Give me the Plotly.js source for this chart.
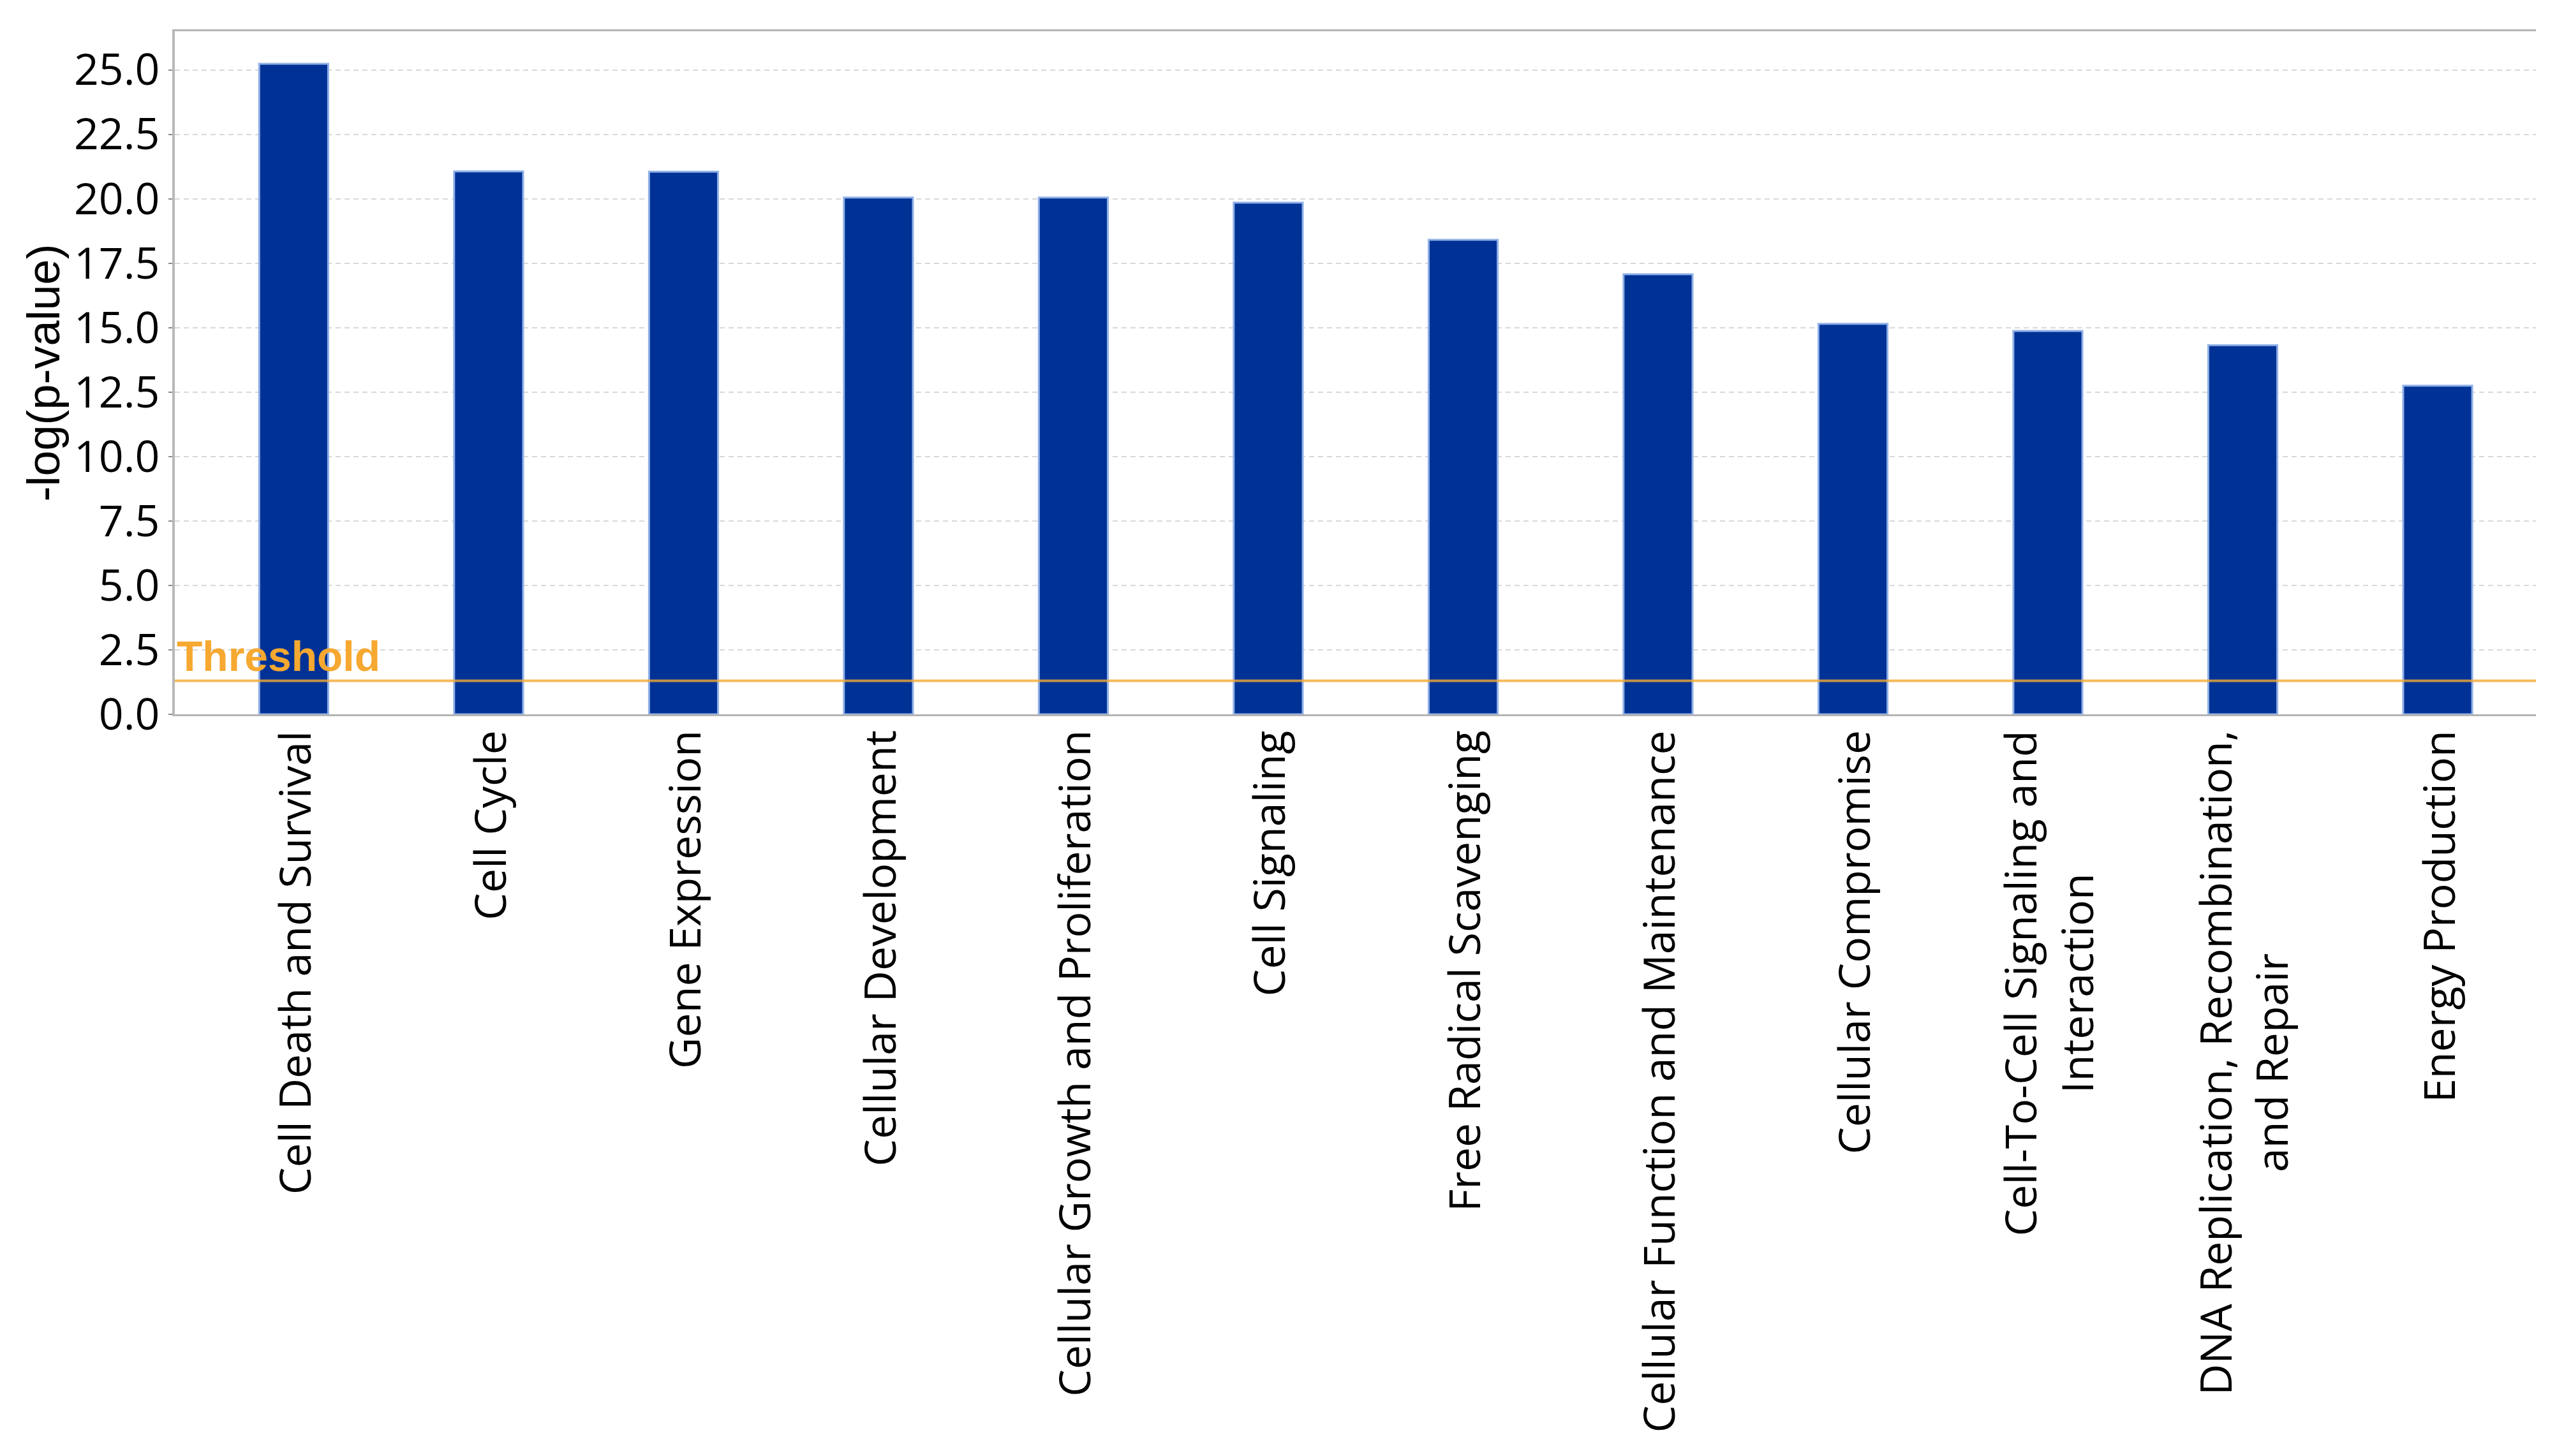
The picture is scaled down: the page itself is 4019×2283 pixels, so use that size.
<!DOCTYPE html>
<html>
<head>
<meta charset="utf-8">
<script src="https://cdn.plot.ly/plotly-3.0.1.min.js"></script>
<style>
  html, body { margin: 0; padding: 0; background: #ffffff; }
  #chart { width: 4019px; height: 2283px; }
</style>
</head>
<body>
<div id="chart"></div>
<script>
// ---- data ----
const categories = [
  "Cell Death and Survival",
  "Cell Cycle",
  "Gene Expression",
  "Cellular Development",
  "Cellular Growth and Proliferation",
  "Cell Signaling",
  "Free Radical Scavenging",
  "Cellular Function and Maintenance",
  "Cellular Compromise",
  "Cell-To-Cell Signaling and Interaction",
  "DNA Replication, Recombination, and Repair",
  "Energy Production"
];
const tickLabels = [
  "Cell Death and Survival",
  "Cell Cycle",
  "Gene Expression",
  "Cellular Development",
  "Cellular Growth and Proliferation",
  "Cell Signaling",
  "Free Radical Scavenging",
  "Cellular Function and Maintenance",
  "Cellular Compromise",
  "Cell-To-Cell Signaling and<br>Interaction",
  "DNA Replication, Recombination,<br>and Repair",
  "Energy Production"
];
const negLogP = [25.24, 21.06, 21.05, 20.05, 20.05, 19.85, 18.41, 17.07, 15.15, 14.87, 14.32, 12.75];
const thresholdValue = 1.3;
const thresholdLabel = "Threshold";
const yTitle = "-log(p-value)";

// ---- chart ----
const trace = {
  type: "bar",
  x: categories,
  y: negLogP,
  width: 0.354,
  marker: {
    color: "#003296",
    line: { color: "#8fb0e8", width: 3 }
  },
  hoverinfo: "x+y"
};

const labelAnnotations = categories.map((c, i) => ({
  x: c, xref: "x",
  y: 0, yref: "paper",
  text: tickLabels[i],
  textangle: -90,
  xanchor: "center",
  yanchor: "top",
  align: "center",
  showarrow: false,
  yshift: -24,
  borderpad: 0,
  font: { family: "Open Sans, Noto Sans, sans-serif", size: 68, color: "#000000" }
}));

const layout = {
  width: 4019,
  height: 2283,
  paper_bgcolor: "#ffffff",
  plot_bgcolor: "#ffffff",
  margin: { l: 274, r: 44, t: 49, b: 1163, pad: 0 },
  showlegend: false,
  bargap: 0,
  xaxis: {
    type: "category",
    range: [-0.61, 11.504],
    showticklabels: false,
    ticks: "",
    showgrid: false,
    zeroline: false,
    showline: true,
    mirror: true,
    linecolor: "#b4b4b4",
    linewidth: 3,
    fixedrange: true
  },
  yaxis: {
    range: [0, 26.5],
    tick0: 0,
    dtick: 2.5,
    tickformat: ".1f",
    ticks: "outside",
    ticklen: 6,
    tickwidth: 2,
    tickcolor: "#8a8a8a",
    showgrid: true,
    gridcolor: "#d8d8d8",
    gridwidth: 2,
    griddash: "8px,6px",
    zeroline: false,
    showline: true,
    linecolor: "#b8b8b8",
    linewidth: 4,
    tickfont: { family: "Open Sans, Noto Sans, sans-serif", size: 68, color: "#000000" },
    title: {
      text: yTitle,
      standoff: 0,
      font: { family: "Liberation Sans, Arial, sans-serif", size: 72, color: "#000000" }
    },
    fixedrange: true
  },
  shapes: [{
    type: "line",
    xref: "paper", x0: 0, x1: 1,
    yref: "y", y0: thresholdValue, y1: thresholdValue,
    line: { color: "rgba(244,170,50,0.8)", width: 4 },
    layer: "above"
  }],
  annotations: [{
    x: 0, xref: "paper",
    y: thresholdValue, yref: "y",
    text: "<b>" + thresholdLabel + "</b>",
    xanchor: "left",
    yanchor: "bottom",
    showarrow: false,
    borderpad: 0,
    xshift: 2,
    yshift: 0,
    font: { family: "Liberation Sans, Arial, sans-serif", size: 66, color: "#f6a830" }
  }].concat(labelAnnotations)
};

Plotly.newPlot("chart", [trace], layout, { displayModeBar: false, staticPlot: true });
</script>
</body>
</html>
